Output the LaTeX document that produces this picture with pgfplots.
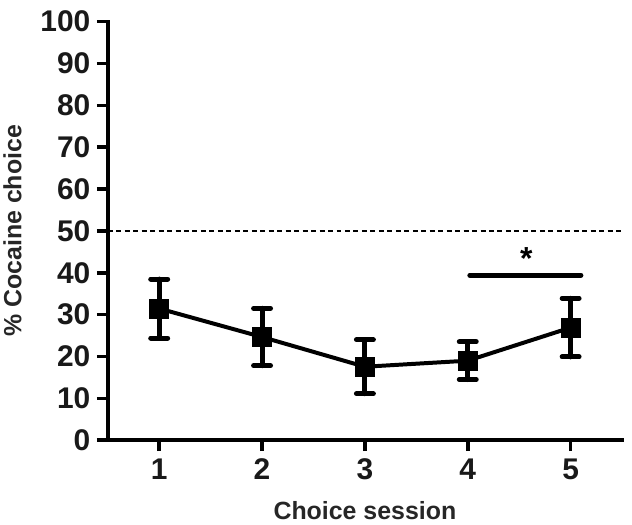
\documentclass[border=0pt]{standalone}
\usepackage{fontspec}
\setmainfont{Liberation Sans}
\usepackage{pgfplots}
\pgfplotsset{compat=1.18}

\begin{document}
\begin{tikzpicture}
\begin{axis}[
    scale only axis,
    width=516pt, height=420pt,
    xmin=0.5, xmax=5.5,
    ymin=0, ymax=100,
    axis x line*=bottom,
    axis y line*=left,
    axis line style={line width=4pt, line cap=rect},
    xtick={1,2,3,4,5},
    ytick={0,10,...,100},
    tick align=outside,
    tick style={line width=3.5pt, black},
    major tick length=11pt,
    /pgf/number format/assume math mode=true,
    ticklabel style={font=\fontsize{30}{32}\selectfont\bfseries, text=black!90},
    yticklabel style={xshift=-3pt},
    xticklabel style={yshift=-4pt},
    xlabel={Choice session},
    ylabel={\% Cocaine choice},
    label style={font=\fontsize{25}{27}\selectfont\bfseries, text=black!85},
    xlabel style={yshift=-15pt},
    ylabel style={yshift=12pt},
    clip=false,
]
% dashed reference line at 50 %
\addplot[black, line width=2.2pt, dash pattern=on 5pt off 3.5pt] coordinates {(0.5,50) (5.5,50)};

% mean +- error
\addplot[black, line width=4pt, mark=square*, mark size=8pt,
    error bars/.cd, y dir=both, y explicit,
    error bar style={line width=5pt, line cap=round},
    error mark options={rotate=90, line width=5pt, mark size=8.5pt, line cap=round}]
coordinates {
    (1,31.45) +- (0,7.05)
    (2,24.65) +- (0,6.85)
    (3,17.55) +- (0,6.45)
    (4,19.0)  +- (0,4.5)
    (5,26.9)  +- (0,7.0)
};

% significance bar
\addplot[black, line width=5pt, line cap=round] coordinates {(4.02,39.4) (5.10,39.4)};
\node[font=\fontsize{32}{32}\selectfont\bfseries] at (axis cs:4.57,43.5) {*};
\end{axis}
\path (current axis.east) ++(10pt,0);
\path (current axis.north) ++(0,21.7pt);
\path (current axis.south) ++(0,-84.5pt);
\end{tikzpicture}
\end{document}
